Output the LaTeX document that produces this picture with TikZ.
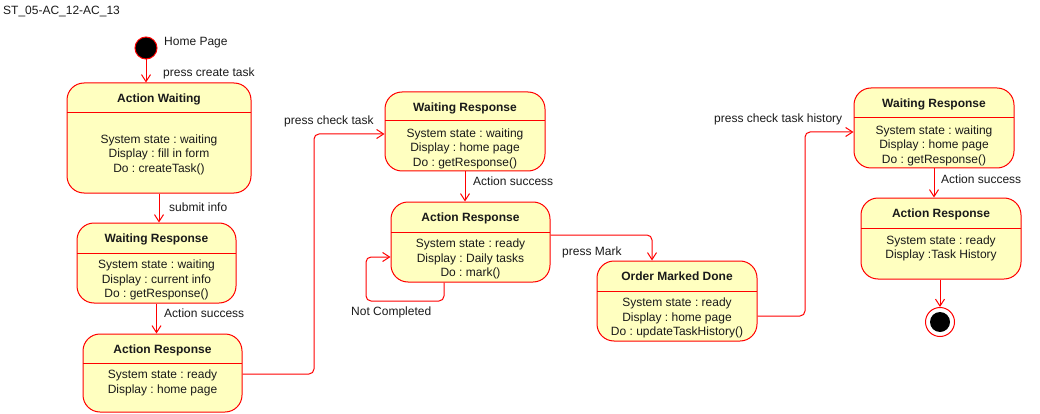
\documentclass[tikz,border=0pt]{standalone}
\usepackage{fontspec}
\setmainfont{Liberation Sans}
\usetikzlibrary{arrows.meta,fit,calc}
\definecolor{stfill}{HTML}{FFFFC0}
\definecolor{ststroke}{HTML}{FF0000}
\definecolor{txt}{HTML}{1A1A1A}
\frenchspacing
\tikzset{
 stbox/.style={draw=ststroke, fill=stfill, rounded corners=17pt, inner sep=0pt, line width=1pt},
 divline/.style={draw=ststroke, line width=1pt},
 sttitle/.style={font=\fontsize{12}{14.4}\selectfont\bfseries, text=txt, inner sep=0pt, anchor=base},
 stbody/.style={font=\fontsize{12}{14.4}\selectfont, text=txt, align=center, inner sep=0pt, anchor=north},
 lbl/.style={font=\fontsize{12}{14.4}\selectfont, text=txt, inner sep=0pt, anchor=base west},
 trans/.style={draw=ststroke, line width=1pt, -{Straight Barb[length=7pt,width=9pt]}, rounded corners=5pt},
}
\newcommand\umlstate[7]{%
  \node[stbox, fit={(#2,#3) (#4,#5)}] (#1) {};
  \draw[divline] (#2,#6) -- (#4,#6);
  \node[sttitle] (#1-t) at ({(#2+#4)/2},{(#3+#6)/2+4.8}) {#7};
}
\begin{document}
\begin{tikzpicture}[x=1pt,y=-1pt]
\useasboundingbox (0,0) rectangle (1040,414);
\node[lbl] (title) at (3,14.5) {ST\_05-AC\_12-AC\_13};

% initial
\node[circle, fill=black, draw=ststroke, line width=1pt, minimum size=22pt, inner sep=0pt] (init) at (146,48) {};
\node[lbl] (homelbl) at (164,45.5) {Home Page};

% states
\umlstate{aw}{67}{83}{251}{193}{113}{Action Waiting}
\node[stbody] (aw-b) at (159,134.4) {System state : waiting\\Display : fill in form\\Do : createTask()};

\umlstate{wra}{77}{223}{236}{303}{253}{Waiting Response}
\node[stbody] (wra-b) at (156.5,260) {System state : waiting\\Display : current info\\Do : getResponse()};

\umlstate{ara}{83}{334}{242}{412}{363}{Action Response}
\node[stbody] (ara-b) at (162.5,370) {System state : ready\\Display : home page};

\umlstate{wrb}{385}{92}{545}{171}{121}{Waiting Response}
\node[stbody] (wrb-b) at (465,128.5) {System state : waiting\\Display : home page\\Do : getResponse()};

\umlstate{arb}{391}{202}{550}{282}{232}{Action Response}
\node[stbody] (arb-b) at (470.5,239) {System state : ready\\Display : Daily tasks\\Do : mark()};

\umlstate{omd}{597}{261}{757}{341}{291}{Order Marked Done}
\node[stbody] (omd-b) at (677,298) {System state : ready\\Display : home page\\Do : updateTaskHistory()};

\umlstate{wrc}{854}{88}{1014}{168}{118}{Waiting Response}
\node[stbody] (wrc-b) at (934,125.5) {System state : waiting\\Display : home page\\Do : getResponse()};

\umlstate{arc}{861}{198}{1021}{279}{228}{Action Response}
\node[stbody] (arc-b) at (941,235.5) {System state : ready\\Display :Task History};

% final
\node[circle, draw=ststroke, fill=white, line width=1pt, minimum size=29pt, inner sep=0pt] (fin) at (940,322) {};
\fill[black] (fin.center) circle[radius=10pt];

% transitions
\draw[trans] (init.south) -- (init.south |- aw.north);
\node[lbl] (l1) at (163,77) {press create task};

\draw[trans] (aw.south) -- (aw.south |- wra.north);
\node[lbl] (l2) at (169,211.5) {submit info};

\draw[trans] (wra.south) -- (wra.south |- ara.north);
\node[lbl] (l3) at (164,317.5) {Action success};

\draw[trans] (ara.east |- 0,374) -- (314,374) -- (314,134) -- (wrb.west |- 0,134);
\node[lbl] (l4) at (284,125) {press check task};

\draw[trans] (wrb.south) -- (wrb.south |- arb.north);
\node[lbl] (l5) at (473,185.5) {Action success};

\draw[trans] (444,0 |- arb.south) -- (444,301) -- (366,301) -- (366,257) -- (arb.west |- 0,257);
\node[lbl] (l6) at (351,315.5) {Not Completed};

\draw[trans] (arb.east |- 0,235) -- (652,235) -- (652,0 |- omd.north);
\node[lbl] (l7) at (562,255) {press Mark};

\draw[trans] (omd.east |- 0,316) -- (805,316) -- (805,132) -- (wrc.west |- 0,132);
\node[lbl] (l8) at (714,122.5) {press check task history};

\draw[trans] (wrc.south) -- (wrc.south |- arc.north);
\node[lbl] (l9) at (941,183) {Action success};

\draw[trans] (fin.north |- arc.south) -- (fin.north);
\end{tikzpicture}
\end{document}
